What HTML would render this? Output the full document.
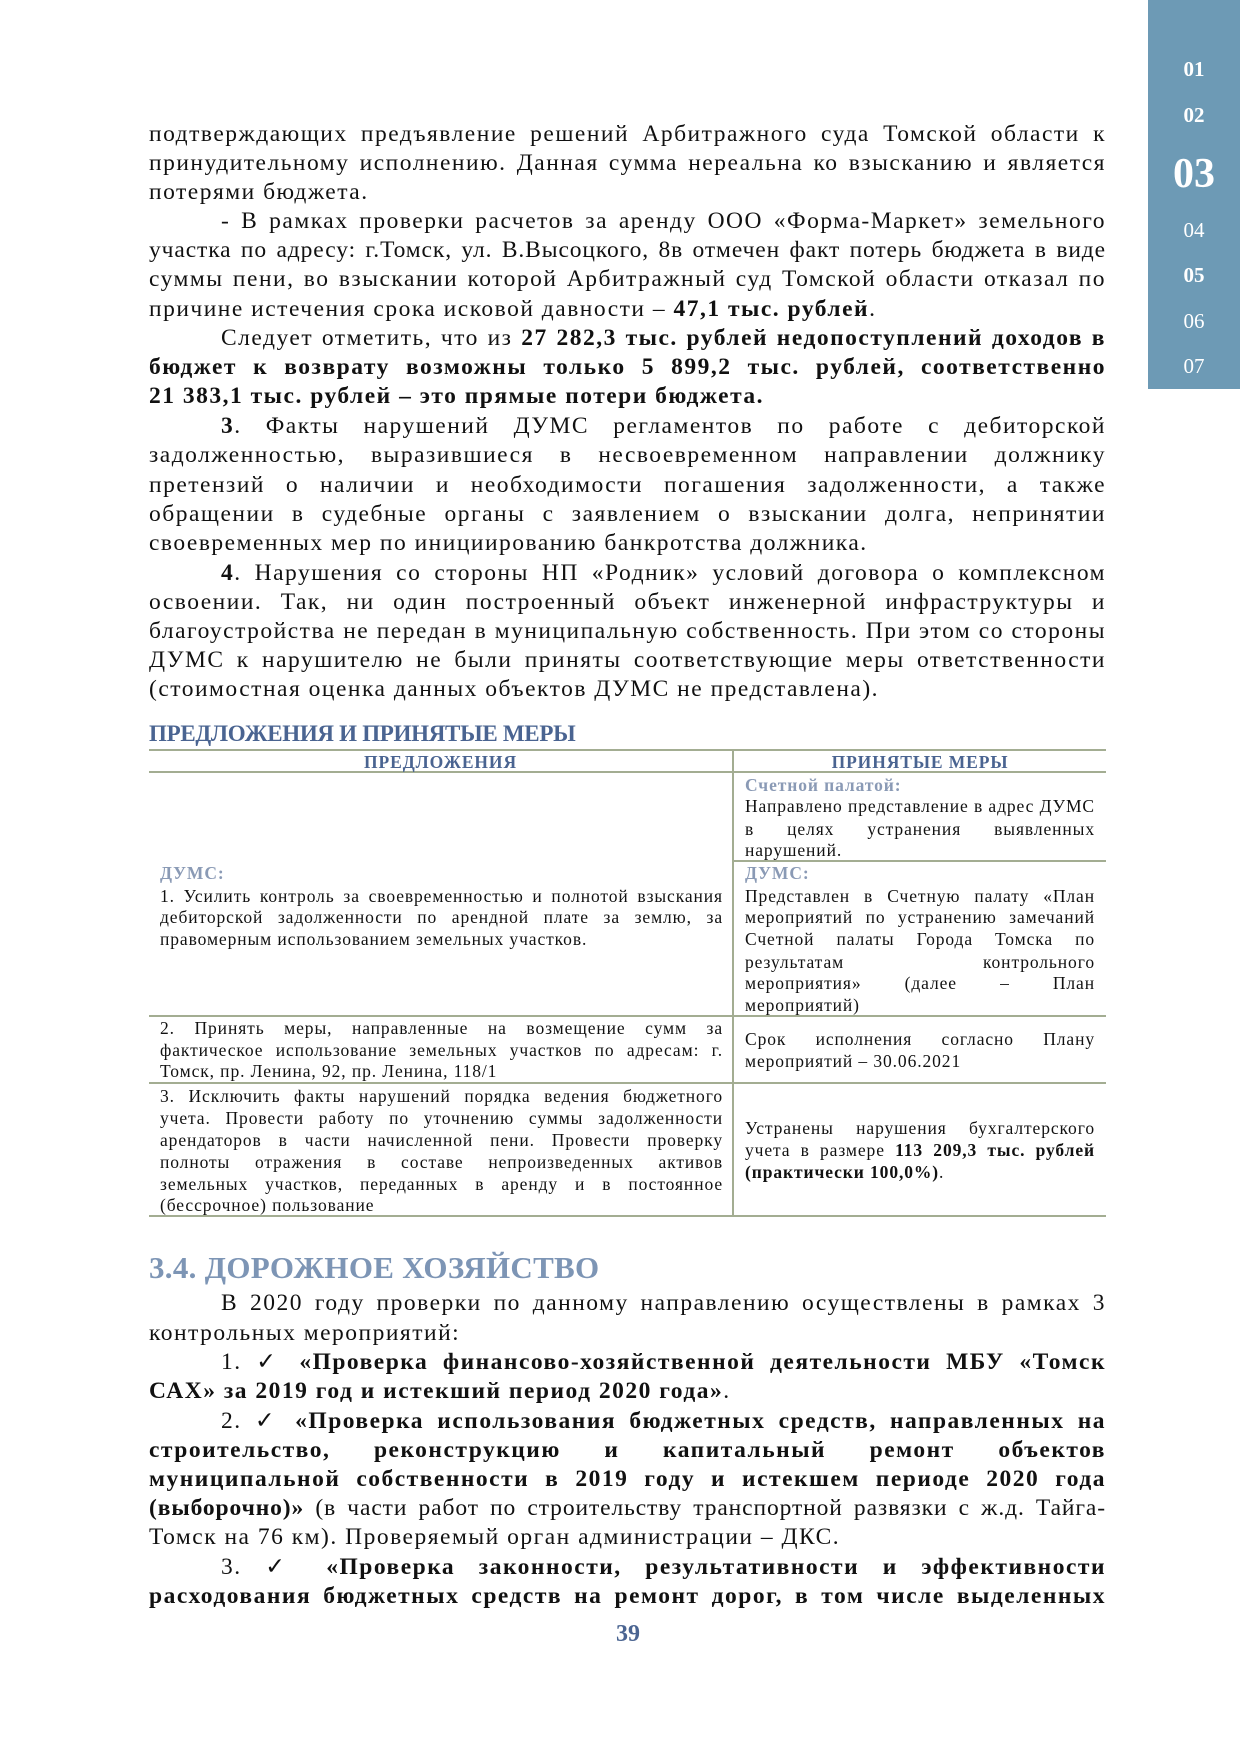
<!DOCTYPE html>
<html><head><meta charset="utf-8"><style>
body{margin:0;width:1240px;height:1754px;background:#fff;position:relative;overflow:hidden;font-family:"Liberation Serif",serif;color:#111}
.l,.e{position:absolute;left:149px;width:957px;height:29px;line-height:29px;font-size:23.5px;letter-spacing:1.5px;white-space:nowrap}
.l{text-align:justify;text-align-last:justify;white-space:normal}
.i{left:221px;width:885px}
.t,.te{position:absolute;height:22px;line-height:22px;font-size:17.5px;letter-spacing:.9px;white-space:nowrap}
.t{text-align:justify;text-align-last:justify;white-space:normal}
.L{left:160px;width:563px}.R{left:745px;width:350px}
.bl{color:#4a6491;font-weight:bold}.gl{color:#8a9ab5;font-weight:bold}
.h{position:absolute;background:#a3ad92}
.side{position:absolute;left:1148px;top:0;width:92px;height:389px;background:#6d9ab5}
.n{position:absolute;left:1148px;width:92px;text-align:center;color:#fff;font-size:21px}
</style></head><body>
<div class="side"></div>
<div class="n" style="top:57px;font-weight:bold">01</div>
<div class="n" style="top:103px;font-weight:bold">02</div>
<div class="n" style="top:150px;font-weight:bold;font-size:42px">03</div>
<div class="n" style="top:218px">04</div>
<div class="n" style="top:263px;font-weight:bold">05</div>
<div class="n" style="top:309px">06</div>
<div class="n" style="top:354px">07</div>

<div class="l" style="top:120px">подтверждающих предъявление решений Арбитражного суда Томской области к</div>
<div class="l" style="top:149px">принудительному исполнению. Данная сумма нереальна ко взысканию и является</div>
<div class="e" style="top:178px">потерями бюджета.</div>
<div class="l i" style="top:207px">- В рамках проверки расчетов за аренду ООО «Форма-Маркет» земельного</div>
<div class="l" style="top:236px;letter-spacing:.9px">участка по адресу: г.Томск, ул. В.Высоцкого, 8в отмечен факт потерь бюджета в виде</div>
<div class="l" style="top:265px">суммы пени, во взыскании которой Арбитражный суд Томской области отказал по</div>
<div class="e" style="top:295px">причине истечения срока исковой давности – <b>47,1 тыс. рублей</b>.</div>
<div class="l i" style="top:324px">Следует отметить, что из <b>27 282,3 тыс. рублей недопоступлений доходов в</b></div>
<div class="l" style="top:353px"><b>бюджет к возврату возможны только 5 899,2 тыс. рублей, соответственно</b></div>
<div class="e" style="top:382px"><b>21 383,1 тыс. рублей – это прямые потери бюджета.</b></div>
<div class="l i" style="top:412px"><b>3</b>. Факты нарушений ДУМС регламентов по работе с дебиторской</div>
<div class="l" style="top:441px">задолженностью, выразившиеся в несвоевременном направлении должнику</div>
<div class="l" style="top:471px">претензий о наличии и необходимости погашения задолженности, а также</div>
<div class="l" style="top:500px">обращении в судебные органы с заявлением о взыскании долга, непринятии</div>
<div class="e" style="top:529px">своевременных мер по инициированию банкротства должника.</div>
<div class="l i" style="top:559px"><b>4</b>. Нарушения со стороны НП «Родник» условий договора о комплексном</div>
<div class="l" style="top:588px">освоении. Так, ни один построенный объект инженерной инфраструктуры и</div>
<div class="l" style="top:617px">благоустройства не передан в муниципальную собственность. При этом со стороны</div>
<div class="l" style="top:646px">ДУМС к нарушителю не были приняты соответствующие меры ответственности</div>
<div class="e" style="top:675px">(стоимостная оценка данных объектов ДУМС не представлена).</div>

<div style="position:absolute;left:149px;top:721px;font-size:23px;font-weight:bold;color:#4a6491;letter-spacing:-.3px">ПРЕДЛОЖЕНИЯ И ПРИНЯТЫЕ МЕРЫ</div>
<div class="h" style="left:149px;top:749px;width:957px;height:2px"></div>
<div class="h" style="left:149px;top:771px;width:957px;height:2px"></div>
<div class="h" style="left:732px;top:749px;width:2px;height:467px"></div>
<div class="h" style="left:734px;top:860px;width:372px;height:2px"></div>
<div class="h" style="left:149px;top:1015px;width:957px;height:2px"></div>
<div class="h" style="left:149px;top:1082px;width:957px;height:2px"></div>
<div class="h" style="left:149px;top:1215px;width:957px;height:2px"></div>
<div class="te bl" style="left:149px;width:583px;text-align:center;top:751px">ПРЕДЛОЖЕНИЯ</div>
<div class="te bl" style="left:734px;width:372px;text-align:center;top:751px">ПРИНЯТЫЕ МЕРЫ</div>

<div class="te R gl" style="top:774px">Счетной палатой:</div>
<div class="t R" style="top:795px">Направлено представление в адрес ДУМС</div>
<div class="t R" style="top:818px">в целях устранения выявленных</div>
<div class="te R" style="top:839px">нарушений.</div>
<div class="te R gl" style="top:862px">ДУМС:</div>
<div class="t R" style="top:885px">Представлен в Счетную палату «План</div>
<div class="t R" style="top:906px">мероприятий по устранению замечаний</div>
<div class="t R" style="top:928px">Счетной палаты Города Томска по</div>
<div class="t R" style="top:951px">результатам контрольного</div>
<div class="t R" style="top:972px">мероприятия» (далее – План</div>
<div class="te R" style="top:994px">мероприятий)</div>

<div class="te L gl" style="top:862px">ДУМС:</div>
<div class="t L" style="top:885px">1. Усилить контроль за своевременностью и полнотой взыскания</div>
<div class="t L" style="top:906px">дебиторской задолженности по арендной плате за землю, за</div>
<div class="te L" style="top:928px">правомерным использованием земельных участков.</div>

<div class="t L" style="top:1017px">2. Принять меры, направленные на возмещение сумм за</div>
<div class="t L" style="top:1039px">фактическое использование земельных участков по адресам: г.</div>
<div class="te L" style="top:1060px">Томск, пр. Ленина, 92, пр. Ленина, 118/1</div>
<div class="t R" style="top:1028px">Срок исполнения согласно Плану</div>
<div class="te R" style="top:1050px">мероприятий – 30.06.2021</div>

<div class="t L" style="top:1085px">3. Исключить факты нарушений порядка ведения бюджетного</div>
<div class="t L" style="top:1107px">учета. Провести работу по уточнению суммы задолженности</div>
<div class="t L" style="top:1129px">арендаторов в части начисленной пени. Провести проверку</div>
<div class="t L" style="top:1151px">полноты отражения в составе непроизведенных активов</div>
<div class="t L" style="top:1173px">земельных участков, переданных в аренду и в постоянное</div>
<div class="te L" style="top:1194px">(бессрочное) пользование</div>
<div class="t R" style="top:1117px">Устранены нарушения бухгалтерского</div>
<div class="t R" style="top:1139px">учета в размере <b>113 209,3 тыс. рублей</b></div>
<div class="te R" style="top:1161px"><b>(практически 100,0%)</b>.</div>

<div style="position:absolute;left:149px;top:1250px;font-size:31px;font-weight:bold;color:#7d95b5;letter-spacing:.3px">3.4. ДОРОЖНОЕ ХОЗЯЙСТВО</div>
<div class="l i" style="top:1289px">В 2020 году проверки по данному направлению осуществлены в рамках 3</div>
<div class="e" style="top:1319px">контрольных мероприятий:</div>
<div class="l i" style="top:1348px">1. ✓ <b>«Проверка финансово-хозяйственной деятельности МБУ «Томск</b></div>
<div class="e" style="top:1377px"><b>САХ» за 2019 год и истекший период 2020 года»</b>.</div>
<div class="l i" style="top:1407px">2. ✓ <b>«Проверка использования бюджетных средств, направленных на</b></div>
<div class="l" style="top:1436px"><b>строительство, реконструкцию и капитальный ремонт объектов</b></div>
<div class="l" style="top:1465px"><b>муниципальной собственности в 2019 году и истекшем периоде 2020 года</b></div>
<div class="l" style="top:1494px;letter-spacing:.9px"><b>(выборочно)»</b> (в части работ по строительству транспортной развязки с ж.д. Тайга-</div>
<div class="e" style="top:1523px">Томск на 76 км). Проверяемый орган администрации – ДКС.</div>
<div class="l i" style="top:1553px">3. ✓ <b>«Проверка законности, результативности и эффективности</b></div>
<div class="l" style="top:1582px"><b>расходования бюджетных средств на ремонт дорог, в том числе выделенных</b></div>
<div style="position:absolute;left:580px;width:96px;text-align:center;top:1621px;font-size:24px;font-weight:bold;color:#4a6491">39</div>
</body></html>
